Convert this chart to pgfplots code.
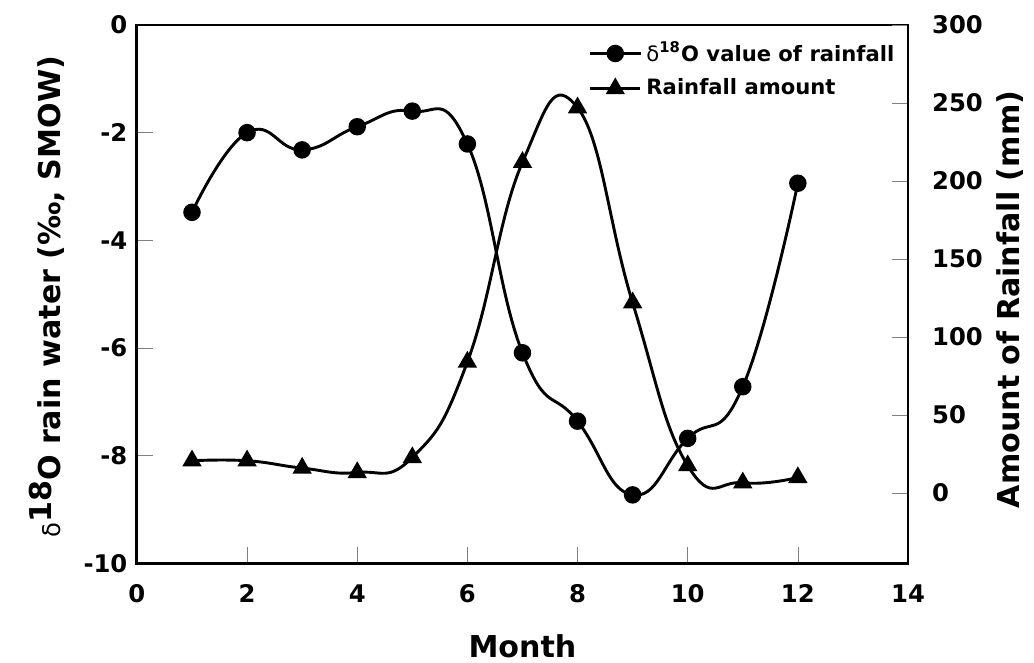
\documentclass[border=0pt]{standalone}
\usepackage{fontspec}
\setmainfont{DejaVu Sans}
\usepackage{pgfplots}
\pgfplotsset{compat=1.18}

\begin{document}
\begin{tikzpicture}
\pgfplotsset{
    every axis/.append style={
        scale only axis,
        width=317.6pt, height=221.7pt,
        xmin=0, xmax=14,
        line width=1.2pt,
        tick align=inside,
        major tick length=6.5pt,
        /pgf/number format/assume math mode=true,
        tick label style={font=\fontsize{10}{12}\selectfont\bfseries},
        label style={font=\fontsize{12.4}{14}\selectfont\bfseries},
    },
}
\begin{axis}[
    ymin=-10, ymax=0,
    ytick={-10,-8,...,0},
    xtick={0,2,...,14},
    xtick pos=lower, ytick pos=left,
    xticklabel style={yshift=-5pt},
    xlabel={Month},
    ylabel={{\mdseries\fontsize{10}{12}\selectfont δ}\raisebox{0.55ex}{18}O rain water (‰, SMOW)},
    xlabel style={at={(axis description cs:0.5,-0.154)}, anchor=center},
    ylabel style={at={(axis description cs:-0.117,0.495)}, anchor=center},
    legend style={draw=none, fill=none, at={(rel axis cs:1.0,0.99)}, anchor=north east,
        font=\fontsize{8.7}{10}\selectfont\bfseries, row sep=1.5pt},
    legend cell align=left,
    legend image code/.code={
        \draw[mark repeat=2, mark phase=2] plot coordinates {(0cm,0cm) (0.36cm,0cm) (0.72cm,0cm)};
    },
]
% delta 18O of rainfall
\addplot[black, line width=1.2pt, smooth, tension=0.8, mark=*, mark size=3pt,
    mark options={solid}] coordinates {
    (1,-3.48) (2,-2.00) (3,-2.32) (4,-1.89) (5,-1.60) (6,-2.21)
    (7,-6.09) (8,-7.36) (9,-8.73) (10,-7.68) (11,-6.72) (12,-2.94)
};
\addlegendentry{{\mdseries δ}\textsuperscript{18}O value of rainfall}
\addlegendimage{black, line width=1.2pt, mark=triangle*, mark size=3.4pt, mark options={solid}}
\addlegendentry{Rainfall amount}
\end{axis}
\begin{axis}[
    ymin=-45, ymax=300,
    ytick={0,50,...,300},
    axis y line*=right, axis x line=none,
    ytick pos=right,
    yticklabel style={xshift=6pt},
    ylabel={Amount of Rainfall (mm)},
    ylabel style={at={(axis description cs:1.132,0.49)}, anchor=center},
]
% rainfall amount (mm)
\addplot[black, line width=1.2pt, smooth, tension=0.8, mark=triangle*, mark size=3.4pt,
    mark options={solid}] coordinates {
    (1,20.7) (2,20.7) (3,16.0) (4,13.2) (5,22.8) (6,84)
    (7,212) (8,247) (9,122) (10,17.6) (11,6.6) (12,10)
};
\end{axis}
\pgfresetboundingbox
\path (-56.4pt,-40.8pt) rectangle (369.5pt,232pt);
\end{tikzpicture}
\end{document}
